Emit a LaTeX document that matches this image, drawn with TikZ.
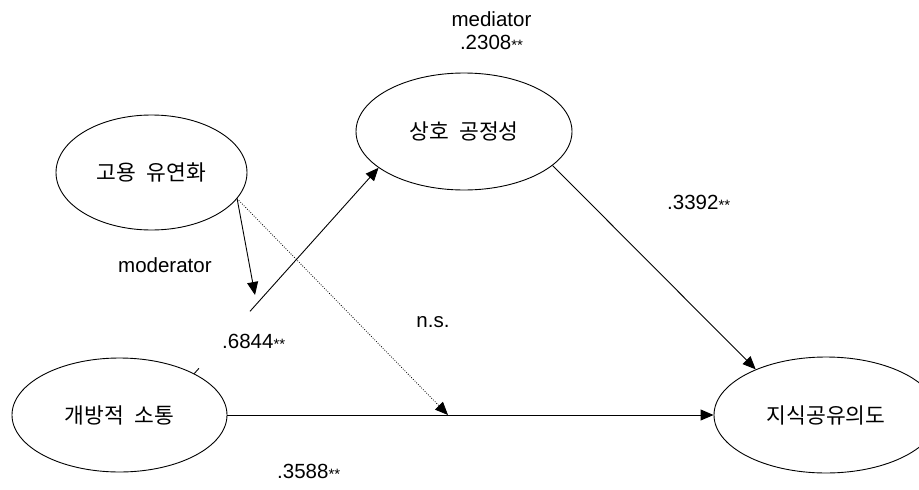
\documentclass[tikz,border=0pt]{standalone}
\usepackage{fontspec}
\setmainfont{Liberation Sans}
\newfontfamily\kr[WordSpace=2.2]{Noto Sans CJK KR}
\usetikzlibrary{arrows.meta,shapes.geometric}

% significance marks after a coefficient
\newcommand\twostar{\raisebox{-1.5pt}{\fontsize{15}{15}\selectfont **}}

\begin{document}
\begin{tikzpicture}[x=1pt,y=-1pt,
  construct/.style={ellipse, draw, line width=0.9pt, inner sep=0pt,
    font=\kr\fontsize{21.5}{24}\selectfont},
  lab/.style={inner sep=0pt, font=\fontsize{20.5}{23}\selectfont},
  link/.style={line width=0.9pt, -{Triangle[length=13pt,width=11pt]}},
  weak/.style={line width=0.8pt, dash pattern=on 0.8pt off 1.6pt}]

  % canvas
  \fill[white] (0,0) rectangle (919,490);
  \useasboundingbox (0,0) rectangle (919,490);
  \clip (0,0) rectangle (919,490);

  % constructs
  \node[construct, minimum width=191pt, minimum height=115pt] (go)   at (151.5,172.5) {고용 유연화};
  \node[construct, minimum width=216pt, minimum height=117pt] (sang) at (464,131.5)   {상호 공정성};
  \node[construct, minimum width=215pt, minimum height=114pt] (kai)  at (119.5,415)   {개방적 소통};
  \node[construct, minimum width=224pt, minimum height=116pt] (ji)   at (826,415)     {지식공유의도};

  % free ends of the moderating paths
  \coordinate (modtip) at (255,295);
  \coordinate (nstip)  at (448,415);

  % paths
  \draw[link] (go.343) -- (modtip);
  \draw[link, weak] (go.343) -- (nstip);
  \draw[link, dash pattern=on 7pt off 76.5pt on 500pt] (kai.29.7) -- (sang.203.4);
  \draw[link] (sang.339.4) -- (ji.147.1);
  \draw[link] (kai.east) -- (ji.west);

  % coefficients and roles
  \node[lab, align=center] (med) at (491.5,31) {mediator\\.2308\twostar};
  \node[lab, anchor=west] (modlab) at (118,265) {moderator};
  \node[lab, anchor=west] (a1) at (222,342) {.6844\twostar};
  \node[lab] (ns) at (433,322) {n.s.};
  \node[lab, anchor=west] (b1) at (667,203) {.3392\twostar};
  \node[lab, anchor=west] (c1) at (277,472) {.3588\twostar};
\end{tikzpicture}
\end{document}
